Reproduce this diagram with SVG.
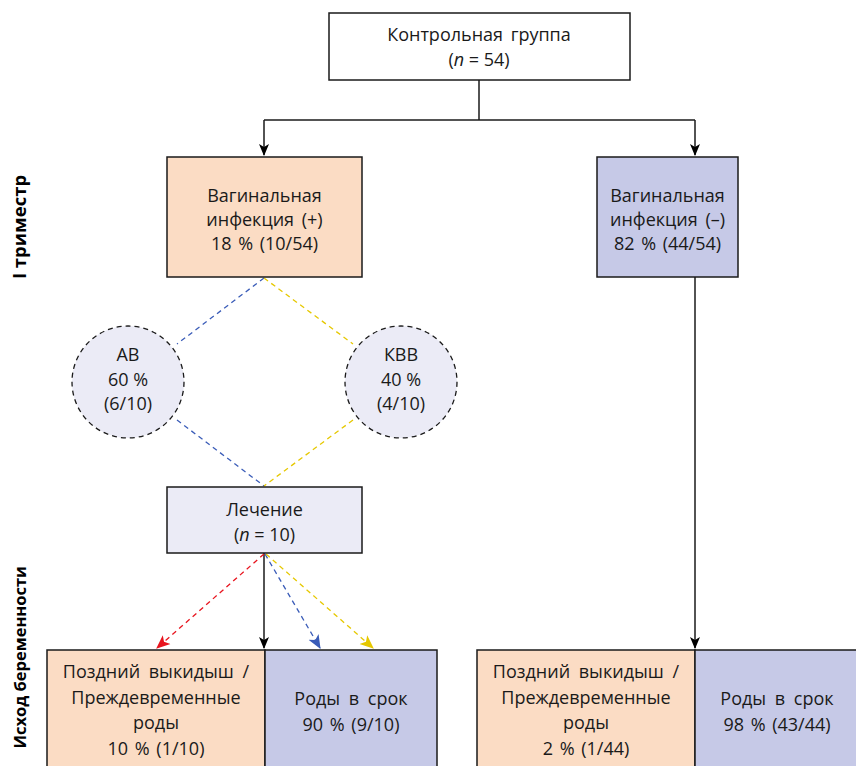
<svg xmlns="http://www.w3.org/2000/svg" width="856" height="766" viewBox="0 0 856 766">
<defs>
<style>
.t{font-family:"Open Sans","Noto Sans",sans-serif;font-size:18px;fill:#1a1a1a;text-anchor:middle}
.side{font-family:"Open Sans","Noto Sans",sans-serif;font-size:18.5px;font-weight:bold;fill:#000}
.box{stroke:#1a1a1a;stroke-width:1.5}
.peach{fill:#FBDCC4}
.blue{fill:#C6C9E7}
.lav{fill:#EBEBF6}
.ln{fill:none;stroke:#1a1a1a;stroke-width:1.5}
.dash{fill:none;stroke-width:1.3;stroke-dasharray:5 4}
</style>
<marker id="ak" viewBox="0 0 12 12" refX="11" refY="6" markerWidth="12" markerHeight="12" markerUnits="userSpaceOnUse" orient="auto"><path d="M0,1 L12,6 L0,11 L3,6 Z" fill="#000"/></marker>
<marker id="ar" viewBox="0 0 12 12" refX="11" refY="6" markerWidth="14" markerHeight="14" markerUnits="userSpaceOnUse" orient="auto"><path d="M0,1 L12,6 L0,11 L3,6 Z" fill="#E8141E"/></marker>
<marker id="ab" viewBox="0 0 12 12" refX="11" refY="6" markerWidth="14" markerHeight="14" markerUnits="userSpaceOnUse" orient="auto"><path d="M0,1 L12,6 L0,11 L3,6 Z" fill="#3A5CB8"/></marker>
<marker id="ay" viewBox="0 0 12 12" refX="11" refY="6" markerWidth="14" markerHeight="14" markerUnits="userSpaceOnUse" orient="auto"><path d="M0,1 L12,6 L0,11 L3,6 Z" fill="#E6C800"/></marker>
</defs>
<rect width="856" height="766" fill="#fff"/>

<g id="connectors">
<path class="ln" d="M479,80 V120"/>
<path class="ln" d="M264,120 H695"/>
<path class="ln" d="M264,120 V155" marker-end="url(#ak)"/>
<path class="ln" d="M695,120 V155" marker-end="url(#ak)"/>
<path class="ln" d="M695,277 V648" marker-end="url(#ak)"/>
<path class="ln" d="M264,553 V648" marker-end="url(#ak)"/>
<path class="dash" stroke="#3A5CB8" d="M264,278 L177,344"/>
<path class="dash" stroke="#E6C800" d="M264,278 L353,344"/>
<path class="dash" stroke="#3A5CB8" d="M177,420 L264,486"/>
<path class="dash" stroke="#E6C800" d="M353,420 L264,486"/>
<path class="dash" stroke="#E8141E" d="M264,554 L157,648" marker-end="url(#ar)"/>
<path class="dash" stroke="#3A5CB8" d="M265,554 L320,648" marker-end="url(#ab)"/>
<path class="dash" stroke="#E6C800" d="M266,554 L373,648" marker-end="url(#ay)"/>
</g>

<g id="control">
<rect class="box" x="329" y="13" width="301" height="67" fill="#fff"/>
<text class="t" x="479" y="41" word-spacing="3">Контрольная группа</text>
<text class="t" x="479" y="66">(<tspan font-style="italic">n</tspan> = 54)</text>
</g>

<g id="infection-pos">
<rect class="box peach" x="167" y="157" width="195" height="120"/>
<text class="t" x="264.5" y="202">Вагинальная</text>
<text class="t" x="264.5" y="226" word-spacing="3">инфекция (+)</text>
<text class="t" x="264.5" y="250" word-spacing="2">18 % (10/54)</text>
</g>

<g id="infection-neg">
<rect class="box blue" x="597" y="157" width="141" height="120"/>
<text class="t" x="667.5" y="202">Вагинальная</text>
<text class="t" x="667.5" y="226" word-spacing="3">инфекция (–)</text>
<text class="t" x="667.5" y="250" word-spacing="2">82 % (44/54)</text>
</g>

<g id="ab">
<circle cx="128" cy="382" r="56" fill="#EBEBF6" stroke="#1a1a1a" stroke-width="1.3" stroke-dasharray="5 4"/>
<text class="t" x="128" y="361">АВ</text>
<text class="t" x="128" y="386">60 %</text>
<text class="t" x="128" y="410">(6/10)</text>
</g>

<g id="kvv">
<circle cx="401" cy="382" r="56" fill="#EBEBF6" stroke="#1a1a1a" stroke-width="1.3" stroke-dasharray="5 4"/>
<text class="t" x="401" y="361">КВВ</text>
<text class="t" x="401" y="386">40 %</text>
<text class="t" x="401" y="410">(4/10)</text>
</g>

<g id="treatment">
<rect class="box lav" x="167" y="487" width="195" height="66"/>
<text class="t" x="264.5" y="516">Лечение</text>
<text class="t" x="264.5" y="541">(<tspan font-style="italic">n</tspan> = 10)</text>
</g>

<g id="outcome-left-late">
<rect class="box peach" x="47" y="650" width="218" height="125"/>
<text class="t" x="156" y="678" word-spacing="4">Поздний выкидыш /</text>
<text class="t" x="156" y="704">Преждевременные</text>
<text class="t" x="156" y="729">роды</text>
<text class="t" x="156" y="755" word-spacing="2">10 % (1/10)</text>
</g>

<g id="outcome-left-term">
<rect class="box blue" x="265" y="650" width="172" height="125"/>
<text class="t" x="351" y="705" word-spacing="4">Роды в срок</text>
<text class="t" x="351" y="731" word-spacing="2">90 % (9/10)</text>
</g>

<g id="outcome-right-late">
<rect class="box peach" x="477" y="650" width="218" height="125"/>
<text class="t" x="586" y="678" word-spacing="4">Поздний выкидыш /</text>
<text class="t" x="586" y="704">Преждевременные</text>
<text class="t" x="586" y="729">роды</text>
<text class="t" x="586" y="755" word-spacing="2">2 % (1/44)</text>
</g>

<g id="outcome-right-term">
<rect class="box blue" x="695" y="650" width="165" height="125"/>
<text class="t" x="777" y="705" word-spacing="4">Роды в срок</text>
<text class="t" x="777" y="731" word-spacing="2">98 % (43/44)</text>
</g>

<g id="labels">
<text class="side" transform="translate(26,227) rotate(-90)" text-anchor="middle">I триместр</text>
<text class="side" transform="translate(26,566) rotate(-90)" text-anchor="end" style="font-size:16.5px">Исход беременности</text>
</g>
</svg>
